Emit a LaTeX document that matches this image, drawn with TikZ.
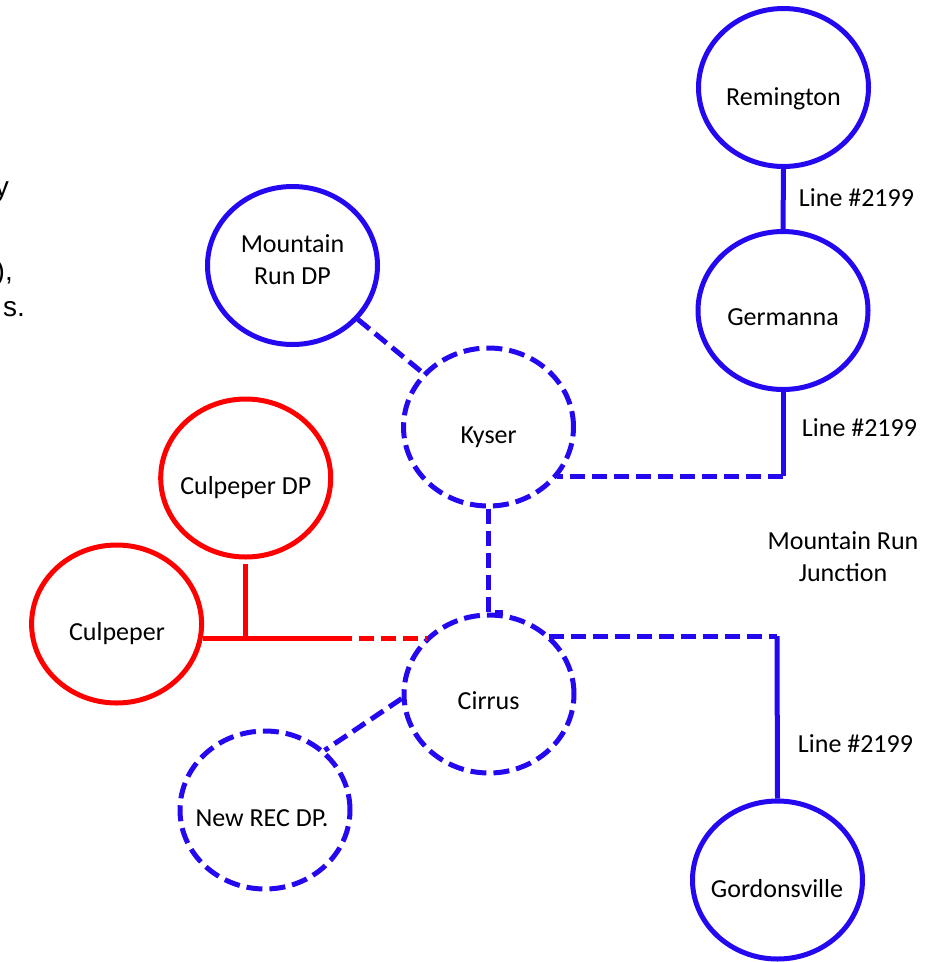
\documentclass[tikz,border=0pt]{standalone}
\usepackage{fontspec}
\setmainfont{Carlito}
\newfontfamily\arialfont{Liberation Sans}
\usetikzlibrary{shapes.geometric,calc}
\definecolor{nblue}{RGB}{36,8,240}
\definecolor{nred}{RGB}{255,0,0}
\begin{document}
\begin{tikzpicture}[x=1pt,y=-1pt,
  station/.style={ellipse,draw=#1,line width=5pt,minimum width=170pt,minimum height=158pt,inner sep=0pt},
  dstation/.style={station=#1,dash pattern=on 16pt off 7pt},
  lbl/.style={font=\fontsize{26}{32}\selectfont,inner sep=0pt,align=center},
  frag/.style={font=\arialfont\fontsize{28}{34}\selectfont,inner sep=0pt,anchor=base east},
  solidline/.style={draw=#1,line width=5pt},
  dashline/.style={draw=#1,line width=5pt,dash pattern=on 15pt off 7pt}
]
\useasboundingbox (0,0) rectangle (943,962);

% stations
\node[station=nblue]  (rem)    at (783.5,87.5) {};
\node[station=nblue]  (ger)    at (783,310.5)  {};
\node[station=nblue]  (mrdp)   at (292.5,265.5){};
\node[dstation=nblue] (kyser)  at (488.5,427)  {};
\node[station=nred]   (cdp)    at (245.7,478)  {};
\node[station=nred]   (culp)   at (116.6,624)  {};
\node[dstation=nblue] (cirrus) at (489,694)    {};
\node[dstation=nblue] (newrec) at (265,810)    {};
\node[station=nblue]  (gord)   at (777.5,880)  {};

% station texts
\node[lbl,anchor=base] (trem)    at (783.5,105)   {Remington};
\node[lbl,anchor=base] (tger)    at (783,325.5)   {Germanna};
\node[lbl]             (tmrdp)   at (292.5,260)   {Mountain\\Run DP};
\node[lbl,anchor=base] (tkyser)  at (488.6,443)   {Kyser};
\node[lbl,anchor=base] (tcdp)    at (245.8,494)   {Culpeper DP};
\node[lbl,anchor=base] (tculp)   at (117,640)     {Culpeper};
\node[lbl,anchor=base] (tcirrus) at (488.6,709.5) {Cirrus};
\node[lbl,anchor=base] (tnewrec) at (262,826)     {New REC DP.};
\node[lbl,anchor=base] (tgord)   at (777,897)     {Gordonsville};

% other texts
\node[lbl,anchor=base] (l1) at (856.5,206.5) {Line \#2199};
\node[lbl,anchor=base] (l2) at (859.5,436.6) {Line \#2199};
\node[lbl,anchor=base] (l3) at (855.5,752.6) {Line \#2199};
\node[lbl] (junction) at (843,557) {Mountain Run\\Junction};

% cut-off text fragments at the left edge (cut off in the reference too)
\node[frag] (f1) at (9,196)  {y};
\node[frag] (f2) at (13,280) {),};
\node[frag] (f3) at (25,316) {s.};

% connectors
\coordinate (gk) at (783,476);
\coordinate (cg) at (777,636);
\coordinate (redjoin) at (246,638);
\coordinate (redmid) at (337,638);

\draw[solidline=nblue] (rem.south) -- (ger.north);
\draw[solidline=nblue] (ger.south) -- (gk);
\draw[dashline=nblue] (gk) -- (gk -| kyser.-36.3);
\draw[dashline=nblue] (mrdp) -- (kyser);
\draw[dashline=nblue] (kyser.south) -- (kyser.south |- cirrus.north) -- ++(14,0);
\draw[dashline=nblue] (cirrus.45 |- cg) -- (cg);
\draw[solidline=nblue] (cg) -- (gord.north);
\draw[dashline=nblue] (cirrus.183) -- (newrec.45);

\draw[solidline=nred] ($(cdp.south)+(0,4)$) -- (cdp.south |- redjoin);
\draw[solidline=nred] (culp.-9.5 |- redjoin) -- (redmid);
\draw[dashline=nred] (redmid) -- (cirrus.137 |- redmid);
\end{tikzpicture}
\end{document}
